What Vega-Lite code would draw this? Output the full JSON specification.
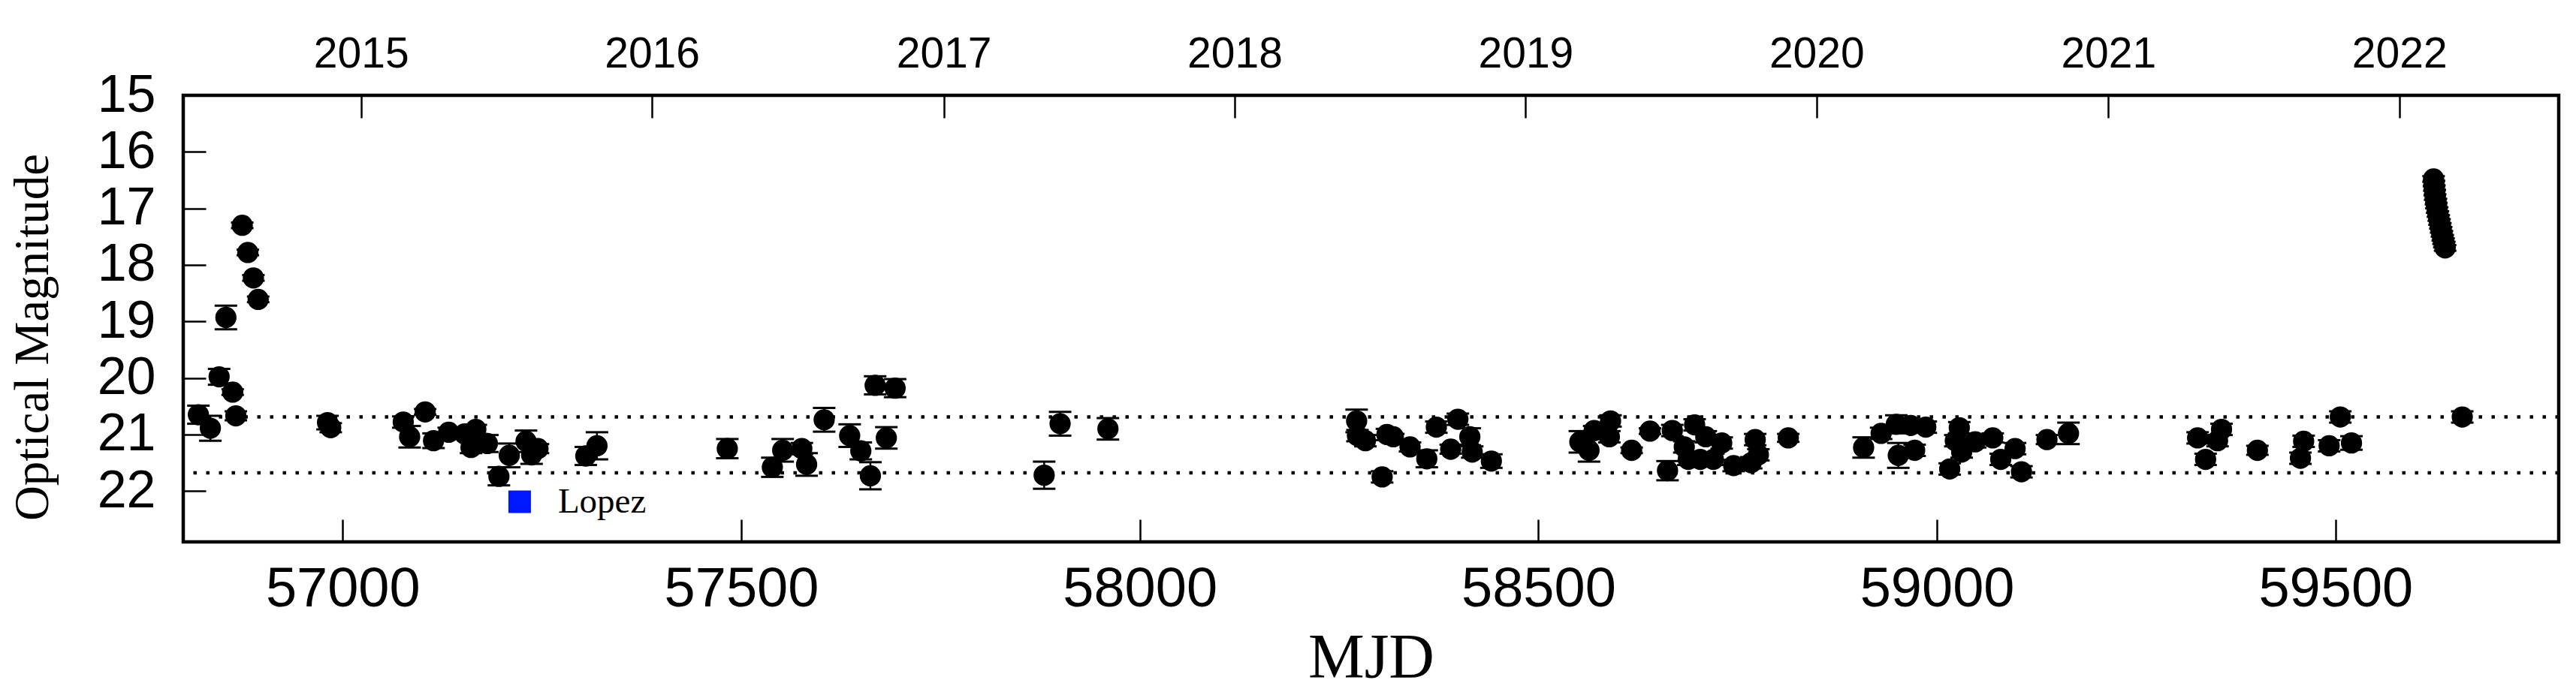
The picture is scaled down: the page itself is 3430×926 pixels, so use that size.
{
  "$schema": "https://vega.github.io/schema/vega-lite/v6.json",
  "width": 3163,
  "height": 595,
  "autosize": {"type": "none"},
  "padding": {"left": 244, "top": 127, "right": 23, "bottom": 204},
  "background": "white",
  "config": {
    "view": {"stroke": "black", "strokeWidth": 4.5},
    "axis": {"grid": false, "domain": false, "labelFlush": false, "labelOverlap": false, "labelBound": false, "labelLimit": 0, "labelColor": "black", "tickColor": "black", "titleColor": "black", "titleFontWeight": "normal", "titleLimit": 0}
  },
  "datasets": {
    "obs": [
      {"mjd": 56819, "mag": 20.65, "err": 0.16},
      {"mjd": 56834, "mag": 20.89, "err": 0.22},
      {"mjd": 56845, "mag": 19.98, "err": 0.14},
      {"mjd": 56853.5, "mag": 18.93, "err": 0.21},
      {"mjd": 56862, "mag": 20.25, "err": 0.05},
      {"mjd": 56866, "mag": 20.67, "err": 0.08},
      {"mjd": 56874, "mag": 17.30, "err": 0.05},
      {"mjd": 56881, "mag": 17.78, "err": 0.05},
      {"mjd": 56888, "mag": 18.23, "err": 0.05},
      {"mjd": 56894, "mag": 18.61, "err": 0.05},
      {"mjd": 56981, "mag": 20.79, "err": 0.12},
      {"mjd": 56985, "mag": 20.88, "err": 0.08},
      {"mjd": 57076, "mag": 20.78, "err": 0.1},
      {"mjd": 57084, "mag": 21.04, "err": 0.19},
      {"mjd": 57103.5, "mag": 20.60, "err": 0.05},
      {"mjd": 57114, "mag": 21.11, "err": 0.13},
      {"mjd": 57133, "mag": 20.96, "err": 0.08},
      {"mjd": 57153, "mag": 20.99, "err": 0.05},
      {"mjd": 57167, "mag": 20.91, "err": 0.08},
      {"mjd": 57161, "mag": 21.23, "err": 0.1},
      {"mjd": 57181.5, "mag": 21.16, "err": 0.15},
      {"mjd": 57209, "mag": 21.37, "err": 0.21},
      {"mjd": 57196, "mag": 21.74, "err": 0.16},
      {"mjd": 57230, "mag": 21.12, "err": 0.19},
      {"mjd": 57237, "mag": 21.36, "err": 0.16},
      {"mjd": 57245, "mag": 21.25, "err": 0.08},
      {"mjd": 57305, "mag": 21.38, "err": 0.16},
      {"mjd": 57319, "mag": 21.20, "err": 0.24},
      {"mjd": 57482.5, "mag": 21.25, "err": 0.17},
      {"mjd": 57539, "mag": 21.58, "err": 0.17},
      {"mjd": 57552, "mag": 21.28, "err": 0.2},
      {"mjd": 57576, "mag": 21.25, "err": 0.1},
      {"mjd": 57582, "mag": 21.53, "err": 0.2},
      {"mjd": 57604, "mag": 20.74, "err": 0.21},
      {"mjd": 57636, "mag": 21.02, "err": 0.2},
      {"mjd": 57650, "mag": 21.29, "err": 0.15},
      {"mjd": 57662, "mag": 21.73, "err": 0.24},
      {"mjd": 57682, "mag": 21.06, "err": 0.19},
      {"mjd": 57668, "mag": 20.13, "err": 0.16},
      {"mjd": 57693, "mag": 20.18, "err": 0.16},
      {"mjd": 57880, "mag": 21.72, "err": 0.24},
      {"mjd": 57900, "mag": 20.81, "err": 0.21},
      {"mjd": 57960, "mag": 20.90, "err": 0.19},
      {"mjd": 58272, "mag": 20.76, "err": 0.2},
      {"mjd": 58273, "mag": 21.02, "err": 0.1},
      {"mjd": 58283, "mag": 21.11, "err": 0.1},
      {"mjd": 58304, "mag": 21.75, "err": 0.1},
      {"mjd": 58310, "mag": 21.00, "err": 0.1},
      {"mjd": 58318, "mag": 21.04, "err": 0.05},
      {"mjd": 58339, "mag": 21.22, "err": 0.08},
      {"mjd": 58360, "mag": 21.43, "err": 0.15},
      {"mjd": 58372, "mag": 20.87, "err": 0.1},
      {"mjd": 58390, "mag": 21.26, "err": 0.08},
      {"mjd": 58399, "mag": 20.73, "err": 0.1},
      {"mjd": 58414, "mag": 21.04, "err": 0.15},
      {"mjd": 58417, "mag": 21.31, "err": 0.1},
      {"mjd": 58441, "mag": 21.47, "err": 0.12},
      {"mjd": 58552, "mag": 21.13, "err": 0.19},
      {"mjd": 58563.5, "mag": 21.28, "err": 0.2},
      {"mjd": 58570, "mag": 20.93, "err": 0.08},
      {"mjd": 58589, "mag": 21.04, "err": 0.1},
      {"mjd": 58590.5, "mag": 20.76, "err": 0.1},
      {"mjd": 58617, "mag": 21.28, "err": 0.05},
      {"mjd": 58640, "mag": 20.94, "err": 0.05},
      {"mjd": 58662, "mag": 21.64, "err": 0.17},
      {"mjd": 58668, "mag": 20.93, "err": 0.1},
      {"mjd": 58683, "mag": 21.22, "err": 0.1},
      {"mjd": 58696, "mag": 20.83, "err": 0.1},
      {"mjd": 58688, "mag": 21.44, "err": 0.1},
      {"mjd": 58703, "mag": 21.44, "err": 0.1},
      {"mjd": 58710, "mag": 21.04, "err": 0.1},
      {"mjd": 58719.5, "mag": 21.44, "err": 0.1},
      {"mjd": 58730, "mag": 21.15, "err": 0.1},
      {"mjd": 58745, "mag": 21.55, "err": 0.1},
      {"mjd": 58767, "mag": 21.50, "err": 0.1},
      {"mjd": 58772, "mag": 21.09, "err": 0.1},
      {"mjd": 58776, "mag": 21.36, "err": 0.1},
      {"mjd": 58813.5, "mag": 21.06, "err": 0.07},
      {"mjd": 58908, "mag": 21.23, "err": 0.18},
      {"mjd": 58930, "mag": 20.98, "err": 0.1},
      {"mjd": 58949, "mag": 20.82, "err": 0.16},
      {"mjd": 58967, "mag": 20.84, "err": 0.1},
      {"mjd": 58986, "mag": 20.87, "err": 0.1},
      {"mjd": 58951.5, "mag": 21.37, "err": 0.22},
      {"mjd": 58972, "mag": 21.28, "err": 0.1},
      {"mjd": 59016, "mag": 21.61, "err": 0.1},
      {"mjd": 59028, "mag": 20.88, "err": 0.1},
      {"mjd": 59023, "mag": 21.11, "err": 0.1},
      {"mjd": 59031, "mag": 21.31, "err": 0.1},
      {"mjd": 59048, "mag": 21.13, "err": 0.1},
      {"mjd": 59070, "mag": 21.06, "err": 0.08},
      {"mjd": 59098, "mag": 21.25, "err": 0.1},
      {"mjd": 59080, "mag": 21.44, "err": 0.1},
      {"mjd": 59106, "mag": 21.66, "err": 0.1},
      {"mjd": 59138, "mag": 21.09, "err": 0.08},
      {"mjd": 59165, "mag": 20.98, "err": 0.19},
      {"mjd": 59327, "mag": 21.06, "err": 0.1},
      {"mjd": 59357, "mag": 20.91, "err": 0.1},
      {"mjd": 59352, "mag": 21.11, "err": 0.1},
      {"mjd": 59337, "mag": 21.44, "err": 0.1},
      {"mjd": 59402, "mag": 21.28, "err": 0.08},
      {"mjd": 59460, "mag": 21.12, "err": 0.1},
      {"mjd": 59456, "mag": 21.42, "err": 0.1},
      {"mjd": 59492, "mag": 21.20, "err": 0.1},
      {"mjd": 59506, "mag": 20.69, "err": 0.1},
      {"mjd": 59520, "mag": 21.15, "err": 0.12},
      {"mjd": 59623, "mag": 16.48, "err": 0.05},
      {"mjd": 59623.5, "mag": 16.56, "err": 0.05},
      {"mjd": 59624, "mag": 16.64, "err": 0.05},
      {"mjd": 59624.5, "mag": 16.72, "err": 0.05},
      {"mjd": 59625, "mag": 16.80, "err": 0.05},
      {"mjd": 59626, "mag": 16.88, "err": 0.05},
      {"mjd": 59626.5, "mag": 16.95, "err": 0.05},
      {"mjd": 59627.5, "mag": 17.03, "err": 0.05},
      {"mjd": 59628.5, "mag": 17.10, "err": 0.05},
      {"mjd": 59629.5, "mag": 17.17, "err": 0.05},
      {"mjd": 59630.5, "mag": 17.24, "err": 0.05},
      {"mjd": 59631.5, "mag": 17.31, "err": 0.05},
      {"mjd": 59632.5, "mag": 17.38, "err": 0.05},
      {"mjd": 59633.5, "mag": 17.45, "err": 0.05},
      {"mjd": 59634.5, "mag": 17.52, "err": 0.05},
      {"mjd": 59635.5, "mag": 17.58, "err": 0.05},
      {"mjd": 59636.5, "mag": 17.64, "err": 0.05},
      {"mjd": 59637.5, "mag": 17.70, "err": 0.05},
      {"mjd": 59659, "mag": 20.69, "err": 0.1}
    ],
    "lopez": [{"mjd": 57222, "mag": 22.19, "label": "Lopez"}],
    "levels": [{"level": 20.69}, {"level": 21.68}]
  },
  "layer": [
    {
      "data": {"name": "levels"},
      "mark": {"type": "rule", "strokeDash": [4.5, 12.5], "strokeWidth": 4.5, "color": "black"},
      "encoding": {
        "y": {"field": "level", "type": "quantitative", "scale": {"domain": [15, 22.9], "reverse": true, "nice": false, "zero": false}, "axis": null}
      }
    },
    {
      "data": {"name": "obs"},
      "mark": {"type": "errorbar", "color": "black", "opacity": 1, "rule": {"strokeWidth": 2.5, "opacity": 1, "color": "black"}, "ticks": {"size": 30, "thickness": 3, "color": "black", "opacity": 1}},
      "encoding": {
        "x": {"field": "mjd", "type": "quantitative", "scale": {"domain": [56800, 59780], "nice": false, "zero": false}, "axis": null},
        "y": {"field": "mag", "type": "quantitative", "scale": {"domain": [15, 22.9], "reverse": true, "nice": false, "zero": false}, "axis": null},
        "yError": {"field": "err"}
      }
    },
    {
      "data": {"name": "obs"},
      "mark": {"type": "circle", "size": 800, "color": "black", "opacity": 1},
      "encoding": {
        "x": {"field": "mjd", "type": "quantitative", "scale": {"domain": [56800, 59780], "nice": false, "zero": false},
          "axis": {"orient": "bottom", "values": [57000, 57500, 58000, 58500, 59000, 59500], "format": "d", "labelFont": "Liberation Sans", "labelFontSize": 74, "tickSize": -30, "tickWidth": 2.5, "labelPadding": 57, "title": "MJD", "titleFont": "Liberation Serif", "titleFontSize": 84, "titlePadding": 14}},
        "y": {"field": "mag", "type": "quantitative", "scale": {"domain": [15, 22.9], "reverse": true, "nice": false, "zero": false},
          "axis": {"orient": "left", "values": [15, 16, 17, 18, 19, 20, 21, 22], "format": "d", "labelFont": "Liberation Sans", "labelFontSize": 70, "tickSize": -30, "tickWidth": 2.5, "labelPadding": 67, "title": "Optical Magnitude", "titleFont": "Liberation Serif", "titleFontSize": 65, "titlePadding": 52, "titleY": 322}}
      }
    },
    {
      "data": {"name": "lopez"},
      "mark": {"type": "square", "size": 900, "color": "#0018ff", "opacity": 1},
      "encoding": {
        "x": {"field": "mjd", "type": "quantitative", "scale": {"domain": [56800, 59780], "nice": false, "zero": false},
          "axis": {"orient": "top", "values": [57023, 57388, 57754, 58119, 58484, 58849, 59215, 59580], "labelExpr": "'' + (round((datum.value - 51544) / 365.25) + 2000)", "labelFont": "Liberation Sans", "labelFontSize": 57, "tickSize": -30, "tickWidth": 2.5, "labelPadding": 56, "title": null}},
        "y": {"field": "mag", "type": "quantitative", "scale": {"domain": [15, 22.9], "reverse": true, "nice": false, "zero": false}, "axis": null}
      }
    },
    {
      "data": {"name": "lopez"},
      "mark": {"type": "text", "align": "left", "baseline": "middle", "dx": 51, "font": "Liberation Serif", "fontSize": 47, "color": "black"},
      "encoding": {
        "x": {"field": "mjd", "type": "quantitative", "scale": {"domain": [56800, 59780], "nice": false, "zero": false}, "axis": null},
        "y": {"field": "mag", "type": "quantitative", "scale": {"domain": [15, 22.9], "reverse": true, "nice": false, "zero": false}, "axis": null},
        "text": {"field": "label"}
      }
    }
  ],
  "resolve": {"axis": {"x": "independent", "y": "independent"}}
}
